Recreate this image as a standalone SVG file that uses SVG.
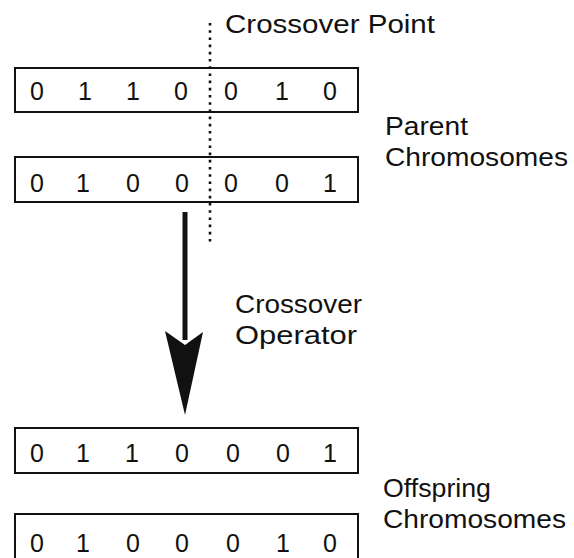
<svg xmlns="http://www.w3.org/2000/svg" width="574" height="558" viewBox="0 0 574 558">
  <style>
    text { font-family: "Liberation Sans", Arial, sans-serif; font-size: 25px; fill: #111; }
    .bit { text-anchor: middle; }
    .chrom rect { fill: #fff; stroke: #111; stroke-width: 2; }
    .cut { fill: none; stroke: #111; stroke-width: 2.6; stroke-dasharray: 2.6 4.6; }
  </style>
  <rect width="574" height="558" fill="#fff"/>

  <!-- parent chromosome A -->
  <g id="parent-a" class="chrom">
    <rect x="15" y="68" width="343" height="44"/>
    <text class="bit" x="37" y="100">0</text>
    <text class="bit" x="85" y="100">1</text>
    <text class="bit" x="133" y="100">1</text>
    <text class="bit" x="181" y="100">0</text>
    <text class="bit" x="231" y="100">0</text>
    <text class="bit" x="282" y="100">1</text>
    <text class="bit" x="330" y="100">0</text>
  </g>

  <!-- parent chromosome B -->
  <g id="parent-b" class="chrom">
    <rect x="15" y="157" width="343" height="45"/>
    <text class="bit" x="37" y="192">0</text>
    <text class="bit" x="83" y="192">1</text>
    <text class="bit" x="133" y="192">0</text>
    <text class="bit" x="182" y="192">0</text>
    <text class="bit" x="231" y="192">0</text>
    <text class="bit" x="282" y="192">0</text>
    <text class="bit" x="330" y="192">1</text>
  </g>

  <!-- offspring chromosome A -->
  <g id="offspring-a" class="chrom">
    <rect x="15" y="428" width="343" height="45"/>
    <text class="bit" x="37" y="462">0</text>
    <text class="bit" x="83" y="462">1</text>
    <text class="bit" x="132" y="462">1</text>
    <text class="bit" x="182" y="462">0</text>
    <text class="bit" x="233" y="462">0</text>
    <text class="bit" x="283" y="462">0</text>
    <text class="bit" x="330" y="462">1</text>
  </g>

  <!-- offspring chromosome B -->
  <g id="offspring-b" class="chrom">
    <rect x="15" y="514" width="343" height="47"/>
    <text class="bit" x="37" y="552">0</text>
    <text class="bit" x="83" y="552">1</text>
    <text class="bit" x="133" y="552">0</text>
    <text class="bit" x="182" y="552">0</text>
    <text class="bit" x="233" y="552">0</text>
    <text class="bit" x="283" y="552">1</text>
    <text class="bit" x="330" y="552">0</text>
  </g>

  <!-- crossover point marker -->
  <g id="crossover-point">
    <line class="cut" x1="210" y1="23" x2="210" y2="243"/>
    <text x="225" y="33" textLength="210" lengthAdjust="spacingAndGlyphs">Crossover Point</text>
  </g>

  <!-- side labels -->
  <g id="parent-label">
    <text x="385" y="135" textLength="83" lengthAdjust="spacingAndGlyphs">Parent</text>
    <text x="385" y="166" textLength="183" lengthAdjust="spacingAndGlyphs">Chromosomes</text>
  </g>
  <g id="operator-label">
    <text x="235" y="313" textLength="127" lengthAdjust="spacingAndGlyphs">Crossover</text>
    <text x="235" y="344" textLength="122" lengthAdjust="spacingAndGlyphs">Operator</text>
  </g>
  <g id="offspring-label">
    <text x="383" y="497" textLength="108" lengthAdjust="spacingAndGlyphs">Offspring</text>
    <text x="383" y="528" textLength="183" lengthAdjust="spacingAndGlyphs">Chromosomes</text>
  </g>

  <!-- operator arrow -->
  <g id="connectors">
    <line x1="185" y1="212" x2="185" y2="340" stroke="#111" stroke-width="5"/>
    <path d="M165 331 L185 345 L203 332 L185 415 Z" fill="#111"/>
  </g>
</svg>
